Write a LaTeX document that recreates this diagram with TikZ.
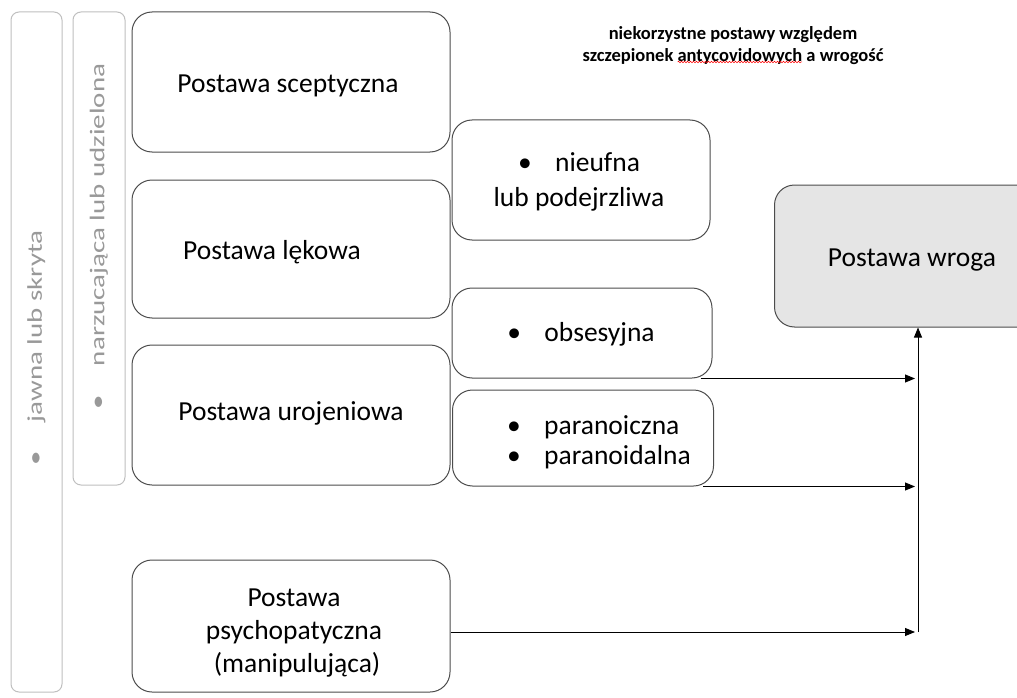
\documentclass[tikz,border=0pt]{standalone}
\usepackage{fontspec}
\usepackage{graphicx}
\setmainfont{Carlito}
\usetikzlibrary{arrows.meta,decorations.pathmorphing}

\tikzset{
  box/.style={draw=black!70, line width=1pt, rounded corners=20pt},
  sidebox/.style={draw=black!25, line width=1pt, rounded corners=8pt},
  txt/.style={font=\fontsize{27.5}{33}\selectfont, align=center},
  sidetxt/.style={font=\fontsize{21}{25}\selectfont, text=black!40, rotate=90},
  conn/.style={line width=0.9pt, -{Triangle[length=10pt,width=8pt]}}
}
\newcommand{\sidelabel}[1]{\scalebox{1.38}[1]{\textbullet\quad #1}}
\newcommand{\bul}{\textbullet\hspace{0.85em}}
\newcommand{\titlefont}{\bfseries\fontsize{18.5}{22}\selectfont}
\newlength\titlelinew
\newlength\titleprew
\newlength\titlewordw

\begin{document}
\settowidth\titlelinew{\titlefont szczepionek antycovidowych a wrogość}%
\settowidth\titleprew{\titlefont szczepionek }%
\settowidth\titlewordw{\titlefont antycovidowych}%
\begin{tikzpicture}[x=1pt,y=1pt]
  %%%%% START %%%%%
  \useasboundingbox (0,0) rectangle (1017,-698);
  \clip (0,0) rectangle (1017,-698);

  % side boxes
  \node[sidebox, minimum width=51pt, minimum height=680pt] (jawna) at (36.5,-352) {};
  \node[sidetxt] (jawnat) at ([yshift=4pt]jawna.center) {\sidelabel{jawna lub skryta}};
  \node[sidebox, minimum width=52pt, minimum height=473pt] (narz) at (99,-248.5) {};
  \node[sidetxt] (narzt) at ([yshift=12pt]narz.center) {\sidelabel{narzucająca lub udzielona}};

  % main boxes
  \node[box, minimum width=318pt, minimum height=140pt] (scept) at (291,-82) {};
  \node[txt] (sceptt) at (288,-86) {Postawa sceptyczna};
  \node[box, minimum width=318pt, minimum height=138pt] (lek) at (291,-249) {};
  \node[txt] (lekt) at (272,-252) {Postawa lękowa};
  \node[box, minimum width=318pt, minimum height=140pt] (uroj) at (291,-415) {};
  \node[txt] (urojt) at (291,-413) {Postawa urojeniowa};
  \node[box, minimum width=318pt, minimum height=132pt] (psych) at (291,-626) {};
  \node[txt] (psycht) at (294,-633) {Postawa\\psychopatyczna\\\ (manipulująca)};

  % small boxes
  \node[box, fill=white, minimum width=258pt, minimum height=120pt] (nieuf) at (581,-180) {};
  \node[txt, font=\fontsize{27.5}{35}\selectfont] (nieuft) at (579,-182) {\bul nieufna\\lub podejrzliwa};
  \node[box, fill=white, minimum width=260pt, minimum height=90pt] (obs) at (582,-333) {};
  \node[txt] (obst) at (581,-334) {\bul obsesyjna};
  \node[box, fill=white, minimum width=261pt, minimum height=96pt] (para) at (583,-438) {};
  \node[txt, align=left, font=\fontsize{27.5}{30}\selectfont] (parat) at (599,-442) {\bul paranoiczna\\\bul paranoidalna};

  % hostile attitude
  \node[box, fill=black!10, minimum width=265pt, minimum height=142pt] (wroga) at (907,-256) {};
  \node[txt] (wrogat) at (912,-260) {Postawa wroga};

  % title, with the red wavy line under one word
  \node[font=\titlefont, align=center] (title) at (733,-46)
    {niekorzystne postawy względem\\szczepionek antycovidowych a wrogość};
  \coordinate (sqa) at ([xshift={-0.5*\titlelinew+\titleprew}]733,-62);
  \coordinate (sqb) at ([xshift=\titlewordw]sqa);
  \draw[red, line width=0.5pt, decorate, decoration={snake, amplitude=0.7pt, segment length=3pt}]
    (sqa) -- (sqb);

  % connectors
  \coordinate (jn) at (918,-632);
  \draw[conn, shorten >=3pt] ([xshift=-12pt]obs.south east) -- (jn |- obs.south);
  \draw[conn, shorten >=3pt] ([xshift=-11pt]para.south east) -- (jn |- para.south);
  \draw[conn, shorten >=3pt] (psych.east |- jn) -- (jn);
  \draw[conn] (jn) -- (jn |- wroga.south);
  %%%%% END %%%%%
\end{tikzpicture}
\end{document}
